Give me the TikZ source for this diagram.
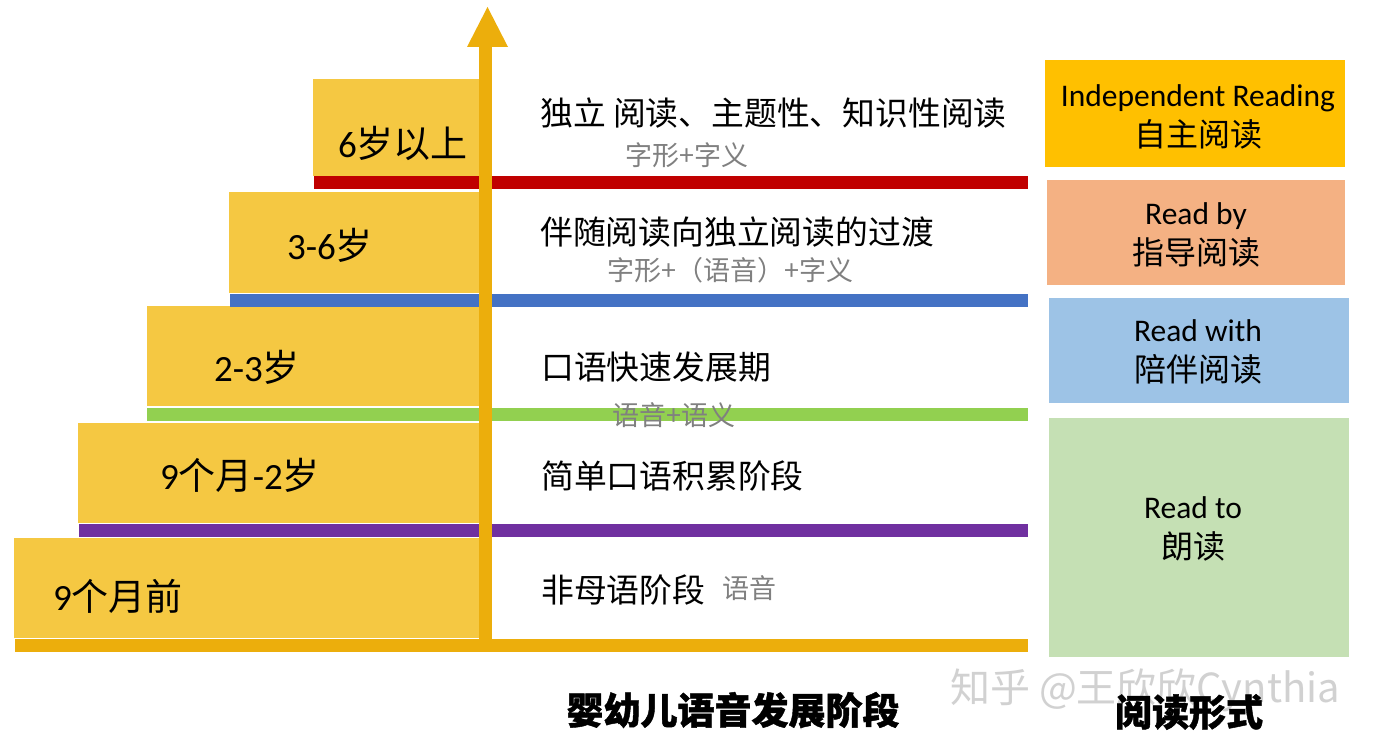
\documentclass[tikz,border=0pt]{standalone}
\usepackage{fontspec}
\setmainfont{Carlito}
\newfontfamily\cjk{Noto Sans CJK SC}
\newfontfamily\cjkheavy{Noto Sans CJK SC}[BoldFeatures={FakeBold=1.2}]
\newfontfamily\lat{Carlito}
\definecolor{yelstep}{RGB}{245,200,66}
\definecolor{axisy}{RGB}{236,174,12}
\definecolor{barred}{RGB}{192,0,0}
\definecolor{barblue}{RGB}{68,114,196}
\definecolor{bargreen}{RGB}{146,208,80}
\definecolor{barpurple}{RGB}{112,48,160}
\definecolor{graytxt}{RGB}{128,128,128}
\definecolor{boxgold}{RGB}{255,192,0}
\definecolor{boxsalmon}{RGB}{244,177,131}
\definecolor{boxblue}{RGB}{157,195,230}
\definecolor{boxgreen}{RGB}{197,224,180}
\begin{document}
\begin{tikzpicture}[x=1pt,y=-1pt,
  steptxt/.style={font=\fontsize{37}{40}\selectfont, text=black, inner sep=0pt},
  midtxt/.style={anchor=west, font=\cjk\fontsize{32.8}{36}\selectfont, text=black, inner sep=0pt},
  subtxt/.style={anchor=west, font=\cjk\fontsize{27}{30}\selectfont, text=graytxt, inner sep=0pt},
  boxtxt/.style={align=center, font=\fontsize{31.5}{40}\selectfont, text=black, inner sep=0pt},
  titletxt/.style={font=\cjkheavy\bfseries\fontsize{37}{40}\selectfont, text=black, inner sep=0pt}]
\useasboundingbox (0,0) rectangle (1382,754);
\fill[white] (0,0) rectangle (1382,754);
% steps
\fill[fill=yelstep] (313,79) rectangle (479,176);
\fill[fill=yelstep] (229,192) rectangle (479,293);
\fill[fill=yelstep] (147,306) rectangle (479,406);
\fill[fill=yelstep] (78,423) rectangle (479,523);
\fill[fill=yelstep] (14,538) rectangle (479,638);
% bars
\fill[fill=barred] (314,176) rectangle (1028,189);
\fill[fill=barblue] (230,294) rectangle (1028,307);
\fill[fill=bargreen] (147,408) rectangle (1028,421);
\fill[fill=barpurple] (79,524) rectangle (1028,537);
\fill[fill=axisy] (15,639) rectangle (1028,652);
% axis arrow
\fill[fill=axisy] (479,646) rectangle (492,46);
\fill[fill=axisy] (467,47) -- (508,47) -- (487.5,7) -- cycle;
% step labels
\node[steptxt] (s1) at (403,143) {{\lat 6}{\cjk 岁以上}};
\node[steptxt] (s2) at (330,245) {{\lat 3-6}{\cjk 岁}};
\node[steptxt] (s3) at (257,367) {{\lat 2-3}{\cjk 岁}};
\node[steptxt] (s4) at (240,475) {{\lat 9}{\cjk 个月}{\lat -2}{\cjk 岁}};
\node[steptxt] (s5) at (118,596) {{\lat 9}{\cjk 个月前}};
% middle texts
\node[midtxt] (m1) at (540,113) {独立 阅读、主题性、知识性阅读};
\node[subtxt] (g1) at (625,155) {字形+字义};
\node[midtxt] (m2) at (540,232) {伴随阅读向独立阅读的过渡};
\node[subtxt] (g2) at (607,270) {字形+（语音）+字义};
\node[midtxt] (m3) at (541,367) {口语快速发展期};
\node[subtxt] (g3) at (612,415) {语音+语义};
\node[midtxt] (m4) at (541,476) {简单口语积累阶段};
\node[midtxt] (m5) at (541,590) {非母语阶段};
\node[subtxt] (g5) at (722,588) {语音};
% right boxes
\fill[fill=boxgold] (1045,60) rectangle (1345,167);
\fill[fill=boxsalmon] (1047,180) rectangle (1345,285);
\fill[fill=boxblue] (1049,298) rectangle (1349,403);
\fill[fill=boxgreen] (1049,418) rectangle (1349,657);
\node[boxtxt] (r1) at (1198,117) {Independent Reading\\{\cjk\fontsize{32}{40}\selectfont 自主阅读}};
\node[boxtxt] (r2) at (1196,235) {Read by\\{\cjk\fontsize{32}{40}\selectfont 指导阅读}};
\node[boxtxt] (r3) at (1198,352) {Read with\\{\cjk\fontsize{32}{40}\selectfont 陪伴阅读}};
\node[boxtxt] (r4) at (1193,529) {Read to\\{\cjk\fontsize{32}{40}\selectfont 朗读}};
% titles
\node[titletxt] (t1) at (733,710) {婴幼儿语音发展阶段};
\node[font=\cjk\fontsize{40}{44}\selectfont, text=gray!45, opacity=0.8, inner sep=0pt] (wm) at (1145,690) {知乎 @王欣欣Cynthia};
\node[titletxt] (t2) at (1189,712) {阅读形式};
\end{tikzpicture}
\end{document}
